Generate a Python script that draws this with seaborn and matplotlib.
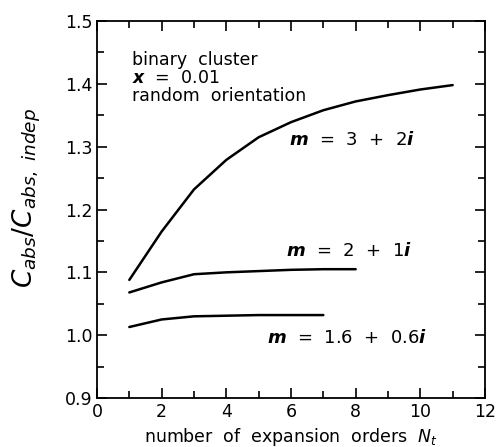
import matplotlib
matplotlib.use("Agg")
import matplotlib.pyplot as plt
import seaborn as sns
import pandas as pd
from matplotlib.ticker import MultipleLocator

sns.set_theme(style="ticks")
plt.rcParams['font.family'] = ['DejaVu Sans']
plt.rcParams['mathtext.fontset'] = 'dejavusans'

x_a = [1, 2, 3, 4, 5, 6, 7, 8, 9, 10, 11]
y_a = [1.088, 1.165, 1.232, 1.279, 1.315, 1.339, 1.358, 1.372, 1.382, 1.391, 1.398]
x_b = [1, 2, 3, 4, 5, 6, 7, 8]
y_b = [1.068, 1.084, 1.097, 1.100, 1.102, 1.104, 1.105, 1.105]
x_c = [1, 2, 3, 4, 5, 6, 7]
y_c = [1.013, 1.025, 1.030, 1.031, 1.032, 1.032, 1.032]

labels = ["$\\mathbfit{m}$  =  3  +  2$\\mathbfit{i}$",
          "$\\mathbfit{m}$  =  2  +  1$\\mathbfit{i}$",
          "$\\mathbfit{m}$  =  1.6  +  0.6$\\mathbfit{i}$"]
label_pos = [(7.9, 1.31), (7.8, 1.134), (7.75, 0.995)]

df = pd.concat([
    pd.DataFrame({"N": x_a, "C": y_a, "m": labels[0]}),
    pd.DataFrame({"N": x_b, "C": y_b, "m": labels[1]}),
    pd.DataFrame({"N": x_c, "C": y_c, "m": labels[2]}),
])

fig = plt.figure(figsize=(5, 4.47), dpi=100)
ax = fig.add_axes([0.194, 0.1096, 0.776, 0.8434])
sns.lineplot(data=df, x="N", y="C", units="m", estimator=None, color="black",
             linewidth=1.8, ax=ax, legend=False)

ax.set_xlim(0, 12)
ax.set_ylim(0.9, 1.5)
ax.xaxis.set_major_locator(MultipleLocator(2))
ax.xaxis.set_minor_locator(MultipleLocator(1))
ax.yaxis.set_major_locator(MultipleLocator(0.1))
ax.yaxis.set_minor_locator(MultipleLocator(0.05))
ax.set_yticklabels([f"{v:.1f}" for v in ax.get_yticks()])
ax.tick_params(which="both", direction="in", top=True, right=True, labelsize=12.5,
               color="black", labelcolor="black")
ax.tick_params(which="major", length=7, width=1.2)
ax.tick_params(which="minor", length=5, width=1.2)
for s in ax.spines.values():
    s.set_linewidth(1.3)
    s.set_color("black")

ax.set_xlabel("number  of  expansion  orders  $\\mathit{N_t}$", fontsize=12.5, color="black")
ax.set_ylabel("$C_{abs}/C_{abs,\\ indep}$", fontsize=19, color="black")
ax.yaxis.set_label_coords(-0.14, 0.53)

for lab, (lx, ly) in zip(labels, label_pos):
    ax.text(lx, ly, lab, fontsize=13, ha="center", va="center", color="black")

ax.text(1.08, 1.452, "binary  cluster\n$\\mathbfit{x}$  =  0.01\nrandom  orientation", fontsize=12.5,
        ha="left", va="top", color="black", linespacing=1.0)

fig.savefig("out.png", dpi=100)
